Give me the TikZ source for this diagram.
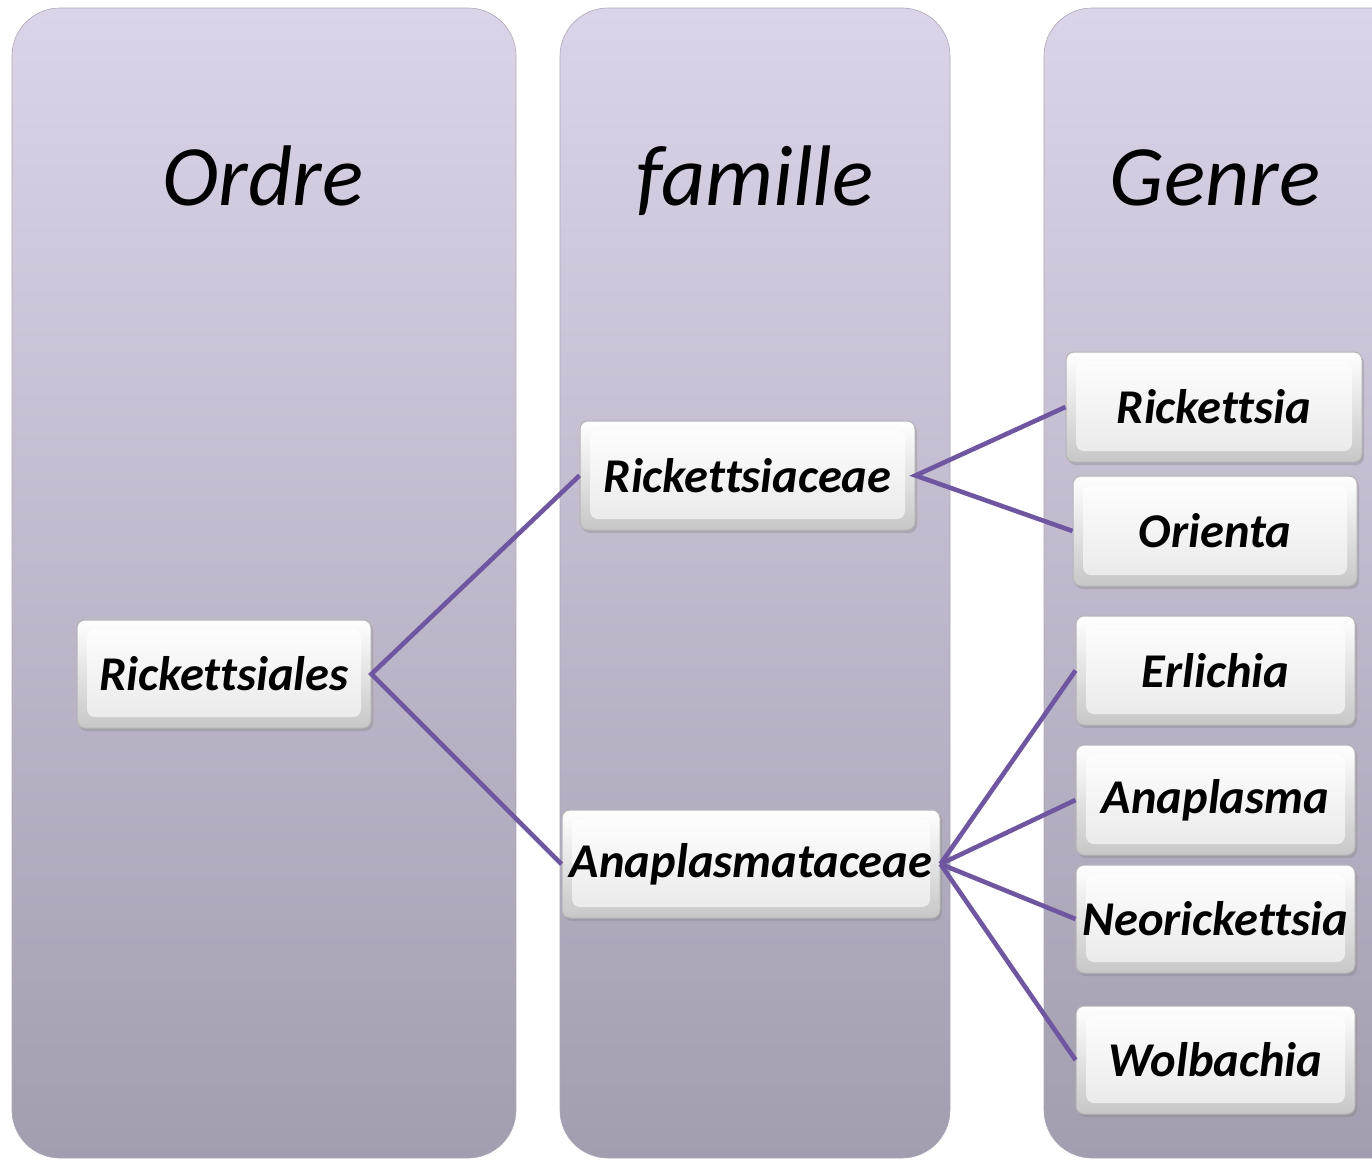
\documentclass[tikz,border=0pt]{standalone}
\usepackage{fontspec}
\setmainfont[Ligatures=NoCommon]{Carlito}
\usetikzlibrary{shadows}
\definecolor{coltop}{HTML}{DBD4E8}
\definecolor{colbot}{HTML}{A39DB0}
\definecolor{linkc}{HTML}{6F56A0}
\definecolor{boxedge}{HTML}{B4B4B4}
\tikzset{
  column/.style={top color=coltop, bottom color=colbot, draw=colbot!90!white, line width=0.6pt, rounded corners=48pt},
  heading/.style={font=\fontsize{86}{90}\selectfont\itshape, text=black, anchor=base},
  taxbox/.style={rectangle, rounded corners=8pt, draw=boxedge, line width=1pt,
    top color=white, bottom color=black!22,
    drop shadow={shadow xshift=2pt, shadow yshift=-3pt, opacity=0.35},
    font=\fontsize{48.5}{52}\selectfont\bfseries\itshape, text=black, inner sep=0pt,
    path picture={\shade[top color=white, bottom color=black!9]
      ([xshift=10pt,yshift=-9pt]path picture bounding box.north west) rectangle
      ([xshift=-10pt,yshift=11pt]path picture bounding box.south east);}},
  link/.style={draw=linkc, line width=4.6pt}
}
\begin{document}
\begin{tikzpicture}[x=1pt,y=-1pt]
\useasboundingbox (0,0) rectangle (1372,1159);
\clip (0,0) rectangle (1372,1159);
% columns
\path[column] (12,8) rectangle (516,1158);
\path[column] (560,8) rectangle (950,1158);
\path[column] (1044,8) rectangle (1420,1158);
% headings
\node[heading] (hOrdre) at (263,205) {Ordre};
\node[heading] (hFam) at (755,205) {famille};
\node[heading] (hGenre) at (1215,205) {Genre};
% boxes
\node[taxbox, minimum width=294pt, minimum height=108pt] (ord) at (224,674) {Rickettsiales};
\node[taxbox, minimum width=335pt, minimum height=109pt] (fam1) at (747.5,475.5) {Rickettsiaceae};
\node[taxbox, minimum width=378pt, minimum height=108pt] (fam2) at (751,864) {Anaplasmataceae};
\node[taxbox, minimum width=296pt, minimum height=110pt] (g1) at (1214,407) {Rickettsia};
\node[taxbox, minimum width=284pt, minimum height=110pt] (g2) at (1215,531) {Orienta};
\node[taxbox, minimum width=279pt, minimum height=109pt] (g3) at (1215.5,670.5) {Erlichia};
\node[taxbox, minimum width=279pt, minimum height=110pt] (g4) at (1215.5,800) {Anaplasma};
\node[taxbox, minimum width=279pt, minimum height=108pt] (g5) at (1215.5,919) {Neorickettsia};
\node[taxbox, minimum width=279pt, minimum height=108pt] (g6) at (1215.5,1060) {Wolbachia};
% links
\draw[link] (fam1.west) -- (ord.east) -- (fam2.west);
\draw[link] (g1.west) -- (fam1.east) -- (g2.west);
\draw[link] (fam2.east) -- (g3.west);
\draw[link] (fam2.east) -- (g4.west);
\draw[link] (fam2.east) -- (g5.west);
\draw[link] (fam2.east) -- (g6.west);
\end{tikzpicture}
\end{document}
